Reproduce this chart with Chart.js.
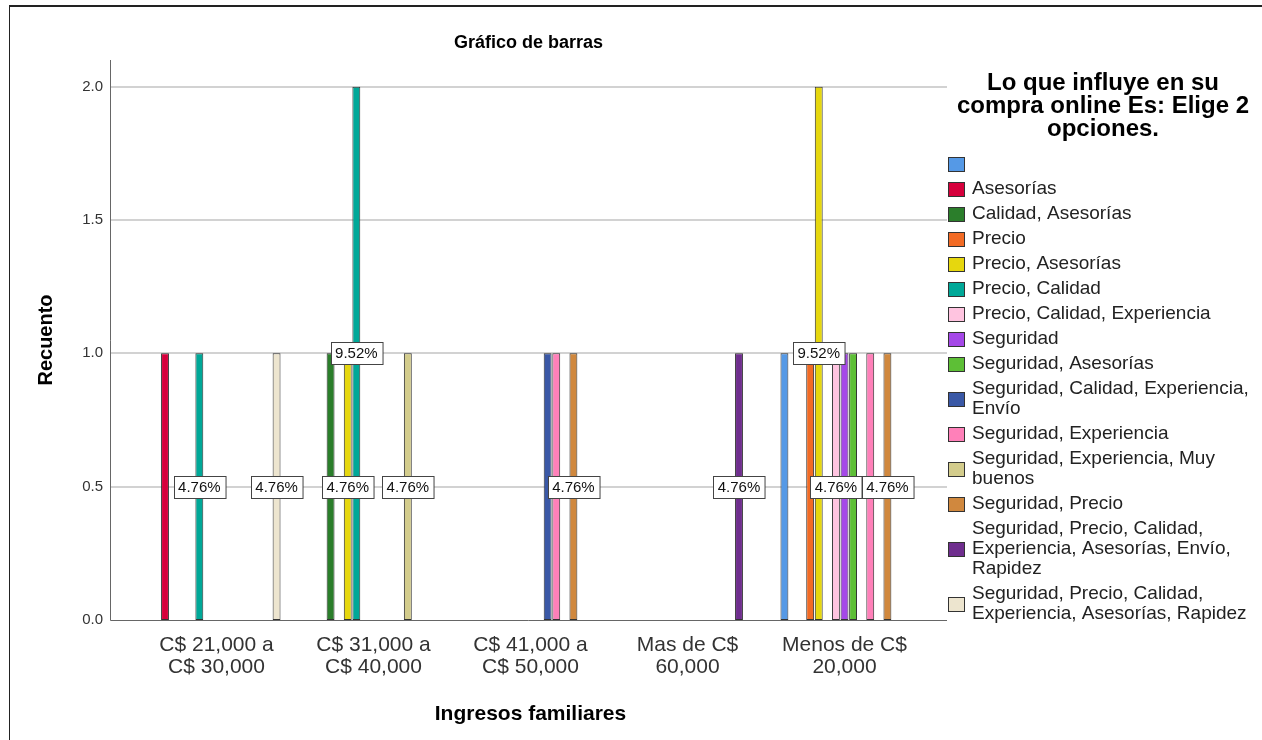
<!DOCTYPE html>
<html>
<head>
<meta charset="utf-8">
<title>Gráfico de barras</title>
<script src="https://cdn.jsdelivr.net/npm/chart.js@4.4.0/dist/chart.umd.min.js"></script>
<style>
  html, body { margin: 0; padding: 0; background: #fff; }
  #wrap { width: 1262px; height: 740px; position: relative; }
</style>
</head>
<body>
<div id="wrap"><canvas id="grafico" width="1262" height="740"></canvas></div>
<script>
// Ingresos familiares (eje X)
const ingresos = [
  ['C$ 21,000 a', 'C$ 30,000'],
  ['C$ 31,000 a', 'C$ 40,000'],
  ['C$ 41,000 a', 'C$ 50,000'],
  ['Mas de C$', '60,000'],
  ['Menos de C$', '20,000']
];

// Respuestas: lo que influye en su compra online
const opciones = [
  '',
  'Asesorías',
  'Calidad, Asesorías',
  'Precio',
  'Precio, Asesorías',
  'Precio, Calidad',
  'Precio, Calidad, Experiencia',
  'Seguridad',
  'Seguridad, Asesorías',
  'Seguridad, Calidad, Experiencia, Envío',
  'Seguridad, Experiencia',
  'Seguridad, Experiencia, Muy buenos',
  'Seguridad, Precio',
  'Seguridad, Precio, Calidad, Experiencia, Asesorías, Envío, Rapidez',
  'Seguridad, Precio, Calidad, Experiencia, Asesorías, Rapidez'
];

// Recuento por opción, en el orden de ingresos
const recuentos = [
  [0, 0, 0, 0, 1],
  [1, 0, 0, 0, 0],
  [0, 1, 0, 0, 0],
  [0, 0, 0, 0, 1],
  [0, 1, 0, 0, 2],
  [1, 2, 0, 0, 0],
  [0, 0, 0, 0, 1],
  [0, 0, 0, 0, 1],
  [0, 0, 0, 0, 1],
  [0, 0, 1, 0, 0],
  [0, 0, 1, 0, 1],
  [0, 1, 0, 0, 0],
  [0, 0, 1, 0, 1],
  [0, 0, 0, 1, 0],
  [1, 0, 0, 0, 0]
];

const colores = [
  '#5599e6', '#d6003c', '#2b7e2b', '#f26b25', '#e6d70e',
  '#00a898', '#ffc4e0', '#a548e8', '#5dbf36', '#3a58a6',
  '#ff80b9', '#d3cc8c', '#d0883e', '#6f2e8e', '#ede5cf'
];

const yTicks = [0, 0.5, 1.0, 1.5, 2.0];

// etiquetas de porcentaje visibles: [ingreso, opción]
const etiquetas = [
  [0, 5], [0, 14], [1, 4], [1, 5], [1, 11],
  [2, 12], [3, 13], [4, 4], [4, 6], [4, 12]
];

const total = recuentos.flat().reduce((a, b) => a + b, 0);

const FONT = '"Liberation Sans", Arial, sans-serif';
Chart.defaults.font.family = FONT;

const PLOT_LEFT = 110, PLOT_RIGHT = 947;

function wrapText(ctx, text, maxW) {
  const words = text.split(' ');
  const lines = [];
  let cur = '';
  words.forEach(w => {
    const t = cur ? cur + ' ' + w : w;
    if (cur && ctx.measureText(t).width > maxW) {
      lines.push(cur);
      cur = w;
    } else {
      cur = t;
    }
  });
  lines.push(cur);
  return lines;
}

const marco = {
  id: 'marco',
  beforeDatasetsDraw(chart) {
    const { ctx, chartArea, scales: { y } } = chart;
    ctx.save();
    // rejilla horizontal
    ctx.strokeStyle = '#d2d2d2';
    ctx.lineWidth = 2;
    yTicks.forEach(v => {
      if (v === 0) return;
      const py = Math.round(y.getPixelForValue(v));
      ctx.beginPath();
      ctx.moveTo(PLOT_LEFT, py);
      ctx.lineTo(PLOT_RIGHT, py);
      ctx.stroke();
    });
    // ejes
    ctx.strokeStyle = '#666';
    ctx.lineWidth = 1;
    ctx.beginPath();
    ctx.moveTo(PLOT_LEFT + 0.5, chartArea.top);
    ctx.lineTo(PLOT_LEFT + 0.5, chartArea.bottom + 0.5);
    ctx.lineTo(PLOT_RIGHT, chartArea.bottom + 0.5);
    ctx.stroke();
    ctx.restore();
  },
  afterDraw(chart) {
    const { ctx } = chart;
    ctx.save();
    // borde exterior
    ctx.strokeStyle = '#222';
    ctx.lineWidth = 2;
    ctx.beginPath();
    ctx.moveTo(1262, 6);
    ctx.lineTo(9, 6);
    ctx.stroke();
    ctx.lineWidth = 1;
    ctx.beginPath();
    ctx.moveTo(9.5, 6);
    ctx.lineTo(9.5, 740);
    ctx.stroke();
    // título
    ctx.fillStyle = '#000';
    ctx.font = 'bold 18px ' + FONT;
    ctx.textAlign = 'center';
    ctx.textBaseline = 'middle';
    ctx.fillText('Gráfico de barras', (PLOT_LEFT + PLOT_RIGHT) / 2, 43);
    ctx.restore();
  }
};

const porcentajes = {
  id: 'porcentajes',
  afterDatasetsDraw(chart) {
    const { ctx, scales: { y } } = chart;
    ctx.save();
    ctx.font = '15px ' + FONT;
    ctx.textAlign = 'center';
    ctx.textBaseline = 'middle';
    etiquetas.forEach(([c, s]) => {
      const v = recuentos[s][c];
      const bar = chart.getDatasetMeta(s).data[c];
      const txt = (v / total * 100).toFixed(2) + '%';
      const w = ctx.measureText(txt).width + 9;
      const h = 22;
      const cx = bar.x;
      const cy = y.getPixelForValue(v / 2);
      const x0 = Math.round(cx - w / 2) + 0.5;
      const y0 = Math.round(cy - h / 2) + 0.5;
      ctx.fillStyle = '#fff';
      ctx.fillRect(x0, y0, w, h);
      ctx.strokeStyle = '#444';
      ctx.lineWidth = 1;
      ctx.strokeRect(x0, y0, w, h);
      ctx.fillStyle = '#111';
      ctx.fillText(txt, cx, cy + 1);
    });
    ctx.restore();
  }
};

const leyenda = {
  id: 'leyenda',
  afterDraw(chart) {
    const { ctx } = chart;
    ctx.save();
    ctx.fillStyle = '#000';
    ctx.textAlign = 'center';
    ctx.textBaseline = 'middle';
    ctx.font = 'bold 24px ' + FONT;
    const titulo = wrapText(ctx, 'Lo que influye en su compra online Es: Elige 2 opciones.', 305);
    titulo.forEach((l, i) => ctx.fillText(l, 1103, 83 + i * 23));

    ctx.font = '19px ' + FONT;
    ctx.textAlign = 'left';
    const LH = 20, GAP = 5;
    let yy = 164;
    chart.data.datasets.forEach(ds => {
      const lines = ds.label ? wrapText(ctx, ds.label, 283) : [''];
      const mid = yy + (lines.length - 1) * LH / 2;
      ctx.fillStyle = ds.backgroundColor;
      ctx.fillRect(948, Math.round(mid - 7.5), 17, 15);
      ctx.strokeStyle = '#333';
      ctx.lineWidth = 1;
      ctx.strokeRect(948.5, Math.round(mid - 7.5) + 0.5, 16, 14);
      ctx.fillStyle = '#222';
      lines.forEach((l, i) => ctx.fillText(l, 972, yy + i * LH));
      yy += lines.length * LH + GAP;
    });
    ctx.restore();
  }
};

const datasets = opciones.map((op, i) => ({
  label: op,
  data: recuentos[i].map(v => v || null),
  backgroundColor: colores[i],
  borderColor: '#333',
  borderWidth: 1,
  borderSkipped: false
}));

new Chart(document.getElementById('grafico'), {
  type: 'bar',
  data: { labels: ingresos, datasets },
  options: {
    responsive: false,
    animation: false,
    devicePixelRatio: 1,
    categoryPercentage: 0.82,
    barPercentage: 0.92,
    layout: { padding: { left: 0, right: 339, top: 60, bottom: 0 } },
    plugins: {
      legend: { display: false },
      tooltip: { enabled: false },
      title: { display: false }
    },
    scales: {
      x: {
        grid: { display: false, drawTicks: false },
        border: { display: false },
        ticks: {
          color: '#333',
          padding: 14,
          maxRotation: 0,
          autoSkip: false,
          font: { size: 21, lineHeight: '22px' }
        },
        title: {
          display: true,
          text: 'Ingresos familiares',
          color: '#000',
          font: { size: 21, weight: 'bold' },
          padding: { top: 0, bottom: 13 }
        },
        afterFit(scale) { scale.height = 120; }
      },
      y: {
        min: 0,
        max: 2.1,
        grid: { display: false, drawTicks: false },
        border: { display: false },
        ticks: {
          stepSize: 0.5,
          includeBounds: false,
          color: '#333',
          padding: 35,
          font: { size: 15 },
          callback: v => v.toFixed(1)
        },
        title: {
          display: true,
          text: 'Recuento',
          color: '#000',
          font: { size: 20, weight: 'bold' },
          padding: { top: 34, bottom: 0 }
        },
        afterFit(scale) { scale.width = 138; }
      }
    }
  },
  plugins: [marco, porcentajes, leyenda]
});
</script>
</body>
</html>
